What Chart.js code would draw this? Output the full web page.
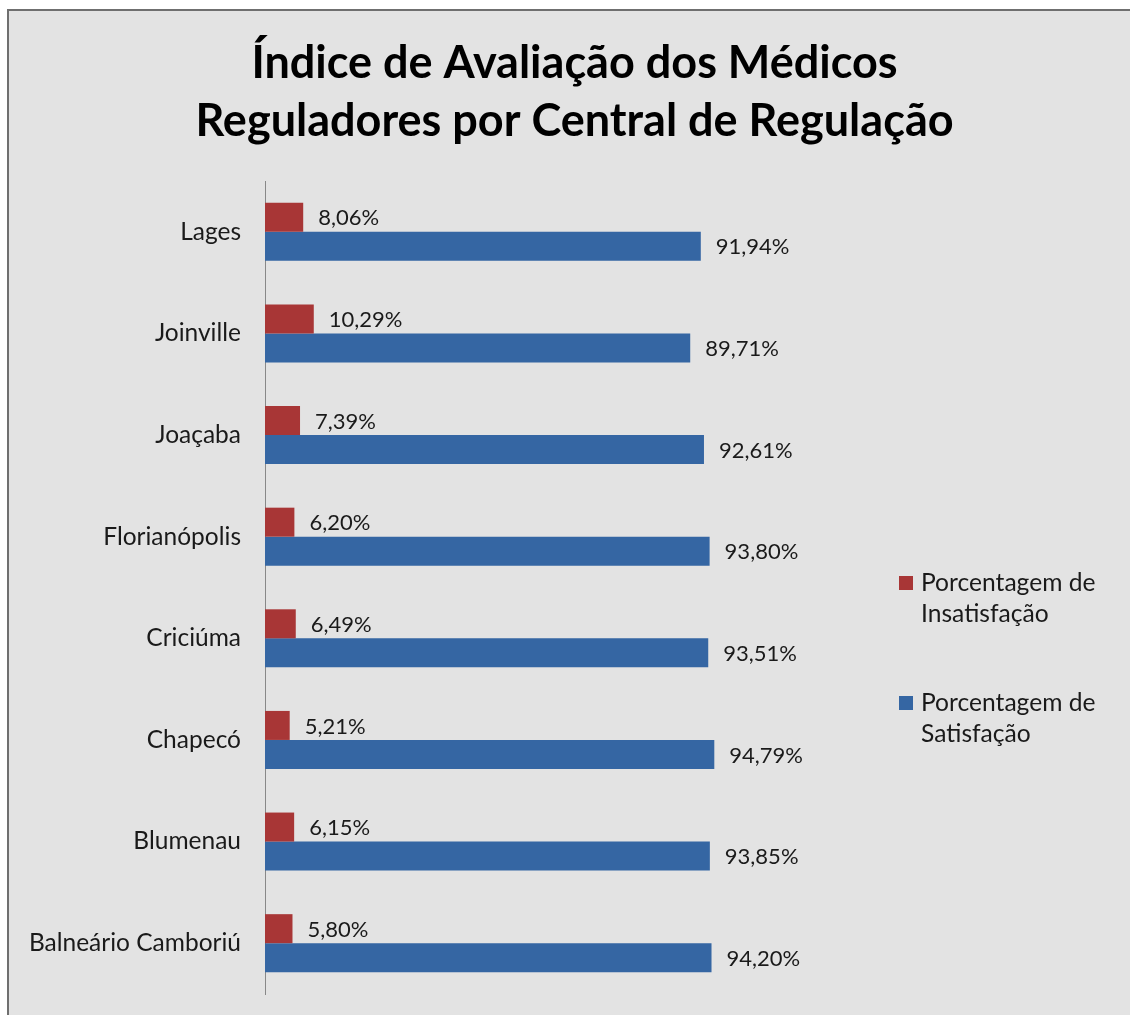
<!DOCTYPE html>
<html lang="pt-BR">
<head>
<meta charset="utf-8">
<title>Índice de Avaliação dos Médicos Reguladores</title>
<script src="https://cdn.jsdelivr.net/npm/chart.js@4.4.1/dist/chart.umd.min.js"></script>
<style>
    html, body { margin: 0; padding: 0; width: 100%; height: 100%; background: #ffffff; overflow: hidden; }
    #painel {
        position: fixed; left: 7px; top: 9px; width: 2000px; height: 2000px;
        border-top: 2px solid #6f6f6f;
        border-left: 2px solid #6f6f6f;
        background: #e3e3e3;
    }
    #grafico { position: absolute; left: 0; top: 0; }
</style>
</head>
<body>
<div id="painel">
    <canvas id="grafico" width="1131" height="1004"></canvas>
</div>
<script>
// --- Dados ---
const centrais = ['Lages', 'Joinville', 'Joaçaba', 'Florianópolis', 'Criciúma', 'Chapecó', 'Blumenau', 'Balneário Camboriú'];
const insatisfacao = [8.06, 10.29, 7.39, 6.20, 6.49, 5.21, 6.15, 5.80];
const satisfacao = [91.94, 89.71, 92.61, 93.80, 93.51, 94.79, 93.85, 94.20];
const titulo = ['Índice de Avaliação dos Médicos', 'Reguladores por Central de Regulação'];

const corInsatisfacao = '#a83636';
const corSatisfacao = '#3566a3';
const corTexto = '#1a1a1a';
const fonte = 'Lato, "Open Sans", sans-serif';

// formato brasileiro: 8,06%
function formatPercent(v) {
    return v.toFixed(2).replace('.', ',') + '%';
}

// título centralizado na largura total do quadro
const tituloCentral = {
    id: 'tituloCentral',
    afterDraw(chart) {
        const ctx = chart.ctx;
        ctx.save();
        ctx.font = 'bold 45px ' + fonte;
        ctx.fillStyle = '#000000';
        ctx.textAlign = 'center';
        ctx.textBaseline = 'middle';
        titulo.forEach((linha, i) => ctx.fillText(linha, chart.width / 2, 52 + i * 58));
        ctx.restore();
    }
};

// rótulos de valor à direita de cada barra
const rotulosValor = {
    id: 'rotulosValor',
    afterDatasetsDraw(chart) {
        const ctx = chart.ctx;
        ctx.save();
        ctx.font = '22px ' + fonte;
        ctx.fillStyle = corTexto;
        ctx.textAlign = 'left';
        ctx.textBaseline = 'middle';
        chart.data.datasets.forEach((ds, i) => {
            chart.getDatasetMeta(i).data.forEach((bar, j) => {
                ctx.fillText(formatPercent(ds.data[j]), bar.x + 15, bar.y + 1);
            });
        });
        ctx.restore();
    }
};

// legenda à direita, com quebra de linha
const legendaLateral = {
    id: 'legendaLateral',
    afterDraw(chart) {
        const ctx = chart.ctx;
        const x = 890;
        const tops = [572, 692];
        ctx.save();
        ctx.font = '24.6px ' + fonte;
        ctx.textBaseline = 'middle';
        chart.data.datasets.forEach((ds, i) => {
            // quebra o texto em linhas de até 220px
            const palavras = ds.label.split(' ');
            const linhas = [];
            let atual = '';
            palavras.forEach(p => {
                const teste = atual ? atual + ' ' + p : p;
                if (ctx.measureText(teste).width > 220 && atual) {
                    linhas.push(atual);
                    atual = p;
                } else {
                    atual = teste;
                }
            });
            linhas.push(atual);

            ctx.fillStyle = ds.backgroundColor;
            ctx.fillRect(x, tops[i] - 7, 14, 14);
            ctx.fillStyle = corTexto;
            linhas.forEach((l, k) => ctx.fillText(l, x + 22, tops[i] + k * 31));
        });
        ctx.restore();
    }
};

new Chart(document.getElementById('grafico'), {
    type: 'bar',
    data: {
        labels: centrais,
        datasets: [
            {
                label: 'Porcentagem de Insatisfação',
                data: insatisfacao,
                backgroundColor: corInsatisfacao,
                categoryPercentage: 0.571,
                barPercentage: 1
            },
            {
                label: 'Porcentagem de Satisfação',
                data: satisfacao,
                backgroundColor: corSatisfacao,
                categoryPercentage: 0.571,
                barPercentage: 1
            }
        ]
    },
    options: {
        indexAxis: 'y',
        responsive: false,
        animation: false,
        layout: { padding: { top: 170, right: 401, bottom: 21, left: 0 } },
        plugins: {
            legend: { display: false },
            tooltip: { enabled: false },
            title: { display: false }
        },
        scales: {
            x: { display: false, min: 0, max: 100 },
            y: {
                grid: { display: false, drawTicks: false },
                border: { display: true, color: '#888888', width: 1 },
                ticks: { color: corTexto, font: { family: fonte, size: 24.5 }, padding: 24 },
                afterFit(scale) {
                    // largura fixa do eixo e sem folga extra em cima/embaixo
                    scale.width = 256;
                    scale.paddingTop = 0;
                    scale.paddingBottom = 0;
                }
            }
        }
    },
    plugins: [tituloCentral, rotulosValor, legendaLateral]
});
</script>
</body>
</html>
